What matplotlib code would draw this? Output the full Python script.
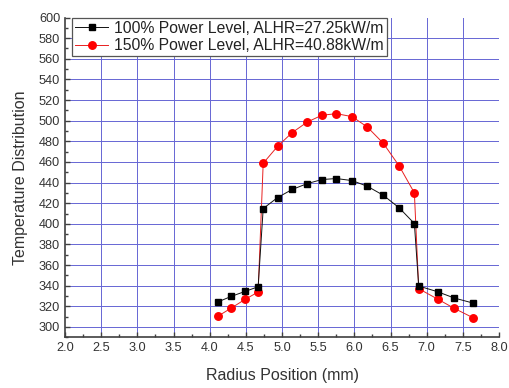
import matplotlib
matplotlib.use("Agg")
import matplotlib.pyplot as plt
from matplotlib.ticker import MultipleLocator

plt.rcParams['font.family'] = ['Liberation Sans', 'DejaVu Sans']

# radius positions (mm)
radius = [4.11, 4.30, 4.49, 4.67, 4.74, 4.94, 5.14, 5.35, 5.55, 5.75,
          5.97, 6.18, 6.40, 6.62, 6.83, 6.89, 7.15, 7.38, 7.64]

temp_100 = [324.2, 329.7, 334.5, 339.0, 414.8, 425.5, 433.3, 439.0, 442.9, 443.9,
            441.9, 436.4, 427.7, 415.5, 400.3, 339.7, 334.2, 328.1, 323.2]

temp_150 = [310.3, 318.4, 326.8, 333.9, 458.7, 475.2, 488.4, 498.7, 505.2, 506.8,
            503.9, 493.8, 478.1, 456.1, 430.0, 337.1, 327.1, 318.1, 309.0]

labels = ["100% Power Level, ALHR=27.25kW/m",
          "150% Power Level, ALHR=40.88kW/m"]

fig = plt.figure(figsize=(5.09, 3.88), dpi=100)
ax = fig.add_axes([65 / 509, 1 - 337.3 / 388, 434 / 509, 319.8 / 388])

ax.plot(radius, temp_100, color='#111111', lw=0.7, marker='s', ms=4.6,
        mfc='black', mec='black', label=labels[0], zorder=4)
ax.plot(radius, temp_150, color='#e82020', lw=0.7, marker='o', ms=5.4,
        mfc='red', mec='red', label=labels[1], zorder=3)

ax.set_xlim(2.0, 8.0)
ax.set_ylim(290, 600)
ax.xaxis.set_major_locator(MultipleLocator(0.5))
ax.xaxis.set_minor_locator(MultipleLocator(0.25))
ax.yaxis.set_major_locator(MultipleLocator(20))
ax.yaxis.set_minor_locator(MultipleLocator(10))
ax.xaxis.set_major_formatter(matplotlib.ticker.FormatStrFormatter('%.1f'))

# grid lines, without the ones sitting on the plot edges
for x in [2.5 + 0.5 * i for i in range(11)]:
    ax.axvline(x, color='#6666d4', lw=0.7, zorder=1)
for y in range(300, 600, 20):
    ax.axhline(y, color='#6666d4', lw=0.7, zorder=1)

for s in ['top', 'right']:
    ax.spines[s].set_visible(False)
for s in ['left', 'bottom']:
    ax.spines[s].set_color('#404040')
    ax.spines[s].set_linewidth(1.2)

ax.tick_params(which='both', direction='in', colors='#404040', labelcolor='#333333',
               labelsize=9.2)
ax.tick_params(which='major', length=3.5, width=1)
ax.tick_params(which='minor', length=2, width=1)

ax.set_xlabel("Radius Position (mm)", fontsize=11.5, color='#333333', labelpad=10)
ax.set_ylabel("Temperature Distribution", fontsize=11.5, color='#333333', labelpad=8)

leg = ax.legend(loc='upper left', bbox_to_anchor=(7 / 434, 1.0), borderaxespad=0,
                fontsize=11.3, fancybox=False, framealpha=1, edgecolor='#555555',
                handlelength=2.1, handletextpad=0.4, borderpad=0.2,
                labelspacing=0.15)
leg.get_frame().set_linewidth(0.9)
for t in leg.get_texts():
    t.set_color('#222222')

fig.savefig("out.png", dpi=100)
